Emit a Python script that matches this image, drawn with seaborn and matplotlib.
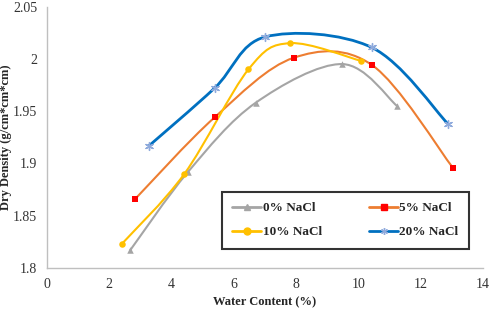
import numpy as np
import matplotlib
matplotlib.use("Agg")
import matplotlib.pyplot as plt
from matplotlib.path import Path
from matplotlib.patches import PathPatch
from matplotlib.lines import Line2D
import seaborn as sns

# valores
labels = ['0% NaCl', '5% NaCl', '10% NaCl', '20% NaCl']
w_0 = [2.67, 4.53, 6.70, 9.48, 11.24]
d_0 = [1.817, 1.892, 1.958, 1.995, 1.955]
w_5 = [2.83, 5.38, 7.92, 10.44, 13.03]
d_5 = [1.866, 1.944, 2.001, 1.994, 1.896]
w_10 = [2.40, 4.41, 6.47, 7.81, 10.09]
d_10 = [1.823, 1.890, 1.990, 2.015, 1.998]
w_20 = [3.26, 5.38, 7.01, 10.42, 12.87]
d_20 = [1.9165, 1.972, 2.021, 2.011, 1.938]

series = [(w_0, d_0), (w_5, d_5), (w_10, d_10), (w_20, d_20)]
line_colors = ['#A5A5A5', '#ED7D31', '#FFC000', '#0070C0']
marker_colors = ['#A5A5A5', '#FF0000', '#FFC000', '#8FAADC']
markers = ['^', 's', 'o', (6, 2, 0)]
marker_sizes = [22, 22, 22, 32]


def curva_suave(x, y):
    # linha suavizada estilo Excel (Bezier Catmull-Rom)
    p = np.column_stack([x, y])
    verts = [p[0]]
    codes = [Path.MOVETO]
    n = len(p)
    for i in range(n - 1):
        p0 = p[i - 1] if i > 0 else p[i]
        p3 = p[i + 2] if i + 2 < n else p[i + 1]
        c1 = p[i] + (p[i + 1] - p0) / 6
        c2 = p[i + 1] - (p3 - p[i]) / 6
        verts += [c1, c2, p[i + 1]]
        codes += [Path.CURVE4] * 3
    return Path(verts, codes)


sns.set_style('white')
plt.rcParams['font.family'] = ['Liberation Serif', 'DejaVu Serif']

fig = plt.figure(figsize=(4.91, 3.11), dpi=100)
ax = fig.add_axes([0.0957, 0.138, 0.888, 0.841])

for (x, y), lc, mc, mk, ms in zip(series, line_colors, marker_colors, markers, marker_sizes):
    ax.add_patch(PathPatch(curva_suave(x, y), facecolor='none', edgecolor=lc,
                           lw=2.0 if lc == '#0070C0' else 1.5, zorder=2))
    if mk == (6, 2, 0):
        sns.scatterplot(x=x, y=y, marker=mk, color=mc, s=ms, linewidth=1.0,
                        edgecolor=mc, ax=ax, zorder=3)
    else:
        sns.scatterplot(x=x, y=y, marker=mk, color=mc, s=ms, linewidth=0,
                        ax=ax, zorder=3)

ax.set_xlim(0, 14)
ax.set_ylim(1.8, 2.05)
ax.set_xticks(range(0, 15, 2))
ax.set_yticks([1.8, 1.85, 1.9, 1.95, 2.0, 2.05])
ax.set_yticklabels(['1.8', '1.85', '1.9', '1.95', '2', '2.05'])

for s in ['top', 'right']:
    ax.spines[s].set_visible(False)
for s in ['left', 'bottom']:
    ax.spines[s].set_color('#BFBFBF')
    ax.spines[s].set_linewidth(1.0)
ax.tick_params(axis='both', direction='out', length=4, color='#BFBFBF',
               labelsize=10, labelcolor='#333333', pad=3)

ax.set_xlabel('Water Content (%)', fontsize=9, fontweight='bold', labelpad=4)
ax.set_ylabel('Dry Density (g/cm*cm*cm)', fontsize=9, fontweight='bold')
ax.yaxis.set_label_coords(-0.08, 0.5)

# ordem da legenda igual à original (linhas: 0%/5%, 10%/20%)
ordem = [0, 2, 1, 3]
handles = [Line2D([0], [0], color=line_colors[i], lw=2, marker=markers[i], markersize=5,
                  markerfacecolor=marker_colors[i], markeredgecolor=marker_colors[i])
           for i in ordem]
leg = ax.legend(handles, [labels[i] for i in ordem], ncol=2, loc='lower left',
                bbox_to_anchor=(0.401, 0.073, 0.567, 0.218), mode='expand',
                frameon=True, fancybox=False, handlelength=2.2, handletextpad=0.1,
                borderaxespad=0, prop={'weight': 'bold', 'size': 9.5},
                labelspacing=0.9, borderpad=0.8)
leg.get_frame().set_edgecolor('black')
leg.get_frame().set_linewidth(1.5)

fig.savefig('out.png', dpi=100)
